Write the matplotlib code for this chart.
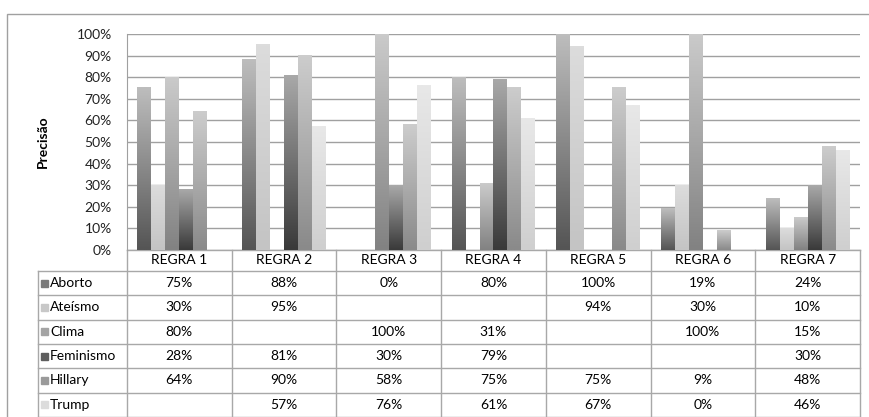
import numpy as np
import matplotlib
matplotlib.use("Agg")
import matplotlib.pyplot as plt
from matplotlib.colors import LinearSegmentedColormap
from matplotlib.patches import Rectangle
from matplotlib.transforms import blended_transform_factory

plt.rcParams['font.family'] = ['Lato', 'DejaVu Sans']

regras = ["REGRA 1", "REGRA 2", "REGRA 3", "REGRA 4", "REGRA 5", "REGRA 6", "REGRA 7"]
temas = ["Aborto", "Ateísmo", "Clima", "Feminismo", "Hillary", "Trump"]
nan = np.nan
aborto = [75, 88, 0, 80, 100, 19, 24]
ateismo = [30, 95, nan, nan, 94, 30, 10]
clima = [80, nan, 100, 31, nan, 100, 15]
feminismo = [28, 81, 30, 79, nan, nan, 30]
hillary = [64, 90, 58, 75, 75, 9, 48]
trump = [nan, 57, 76, 61, 67, 0, 46]
series = [aborto, ateismo, clima, feminismo, hillary, trump]

# gradient (bottom, top) per series + legend key colour
grads = [("#555555", "#bdbdbd"), ("#c4c4c4", "#dcdcdc"), ("#828282", "#cacaca"),
         ("#3a3a3a", "#a8a8a8"), ("#8a8a8a", "#cccccc"), ("#cfcfcf", "#e8e8e8")]
keys = ["#7a7a7a", "#c8c8c8", "#a4a4a4", "#5e5e5e", "#9a9a9a", "#dcdcdc"]

fig = plt.figure(figsize=(8.7, 4.17), dpi=100)
ax = fig.add_axes([127/870, 1-250/417, 733/870, 216/417])

x = np.arange(len(regras))
n = len(series)
w = 0.8 / n
grad = np.linspace(0, 1, 64).reshape(-1, 1)
for i, vals in enumerate(series):
    v = np.array(vals, dtype=float) / 100
    bars = ax.bar(x - 0.4 + w * (i + 0.5), np.nan_to_num(v), w, color='none', zorder=3)
    cmap = LinearSegmentedColormap.from_list("g%d" % i, grads[i])
    for r, val in zip(bars, v):
        if np.isnan(val) or r.get_height() <= 0:
            continue
        x0, h = r.get_x(), r.get_height()
        ax.imshow(grad, extent=(x0, x0 + r.get_width(), 0, h), origin='lower',
                  cmap=cmap, aspect='auto', zorder=3, interpolation='bilinear')

ax.set_xlim(-0.5, len(regras) - 0.5)
ax.set_ylim(0, 1)
ax.set_yticks(np.arange(0, 1.01, 0.1))
ax.set_yticklabels(["%d%%" % round(t * 100) for t in np.arange(0, 1.01, 0.1)], fontsize=10)
ax.tick_params(axis='y', length=0, pad=11, colors='#222222')
ax.set_xticks([])
ax.yaxis.grid(True, color='#a0a0a0', lw=1)
ax.set_axisbelow(True)
for s in ['top', 'right', 'bottom']:
    ax.spines[s].set_visible(False)
ax.spines['left'].set_color('#a0a0a0')
ax.set_ylabel("Precisão", fontsize=10, fontweight='bold', labelpad=20)

# data table under the chart
tr = blended_transform_factory(ax.transData, ax.transAxes)
lc = '#a8a8a8'
hh = 21 / 216
rh = 24.3 / 216
xl = (38 - 127) / (733 / 7) - 0.5
xr = len(regras) - 0.5
bottom = -hh - rh * len(temas)
for j in range(len(regras) + 1):
    ax.plot([j - 0.5, j - 0.5], [0, bottom], color=lc, lw=1, transform=tr, clip_on=False)
ax.plot([-0.5, xr], [0, 0], color=lc, lw=1, transform=tr, clip_on=False)
ax.plot([xl, xl], [-hh, bottom], color=lc, lw=1, transform=tr, clip_on=False)
for k in range(len(temas) + 1):
    yy = -hh - rh * k
    ax.plot([xl, xr], [yy, yy], color=lc, lw=1, transform=tr, clip_on=False)
for j, rg in enumerate(regras):
    ax.text(j, -hh / 2, rg, ha='center', va='center', fontsize=10, transform=tr)
for k, (tema, vals) in enumerate(zip(temas, series)):
    yc = -hh - rh * (k + 0.5)
    ax.add_patch(Rectangle((xl + 0.03, yc - 0.016), 0.065, 0.032, transform=tr,
                           color=keys[k], clip_on=False))
    ax.text(xl + 0.115, yc, tema, ha='left', va='center', fontsize=10, transform=tr)
    for j, v in enumerate(vals):
        if not np.isnan(v):
            ax.text(j, yc, "%d%%" % v, ha='center', va='center', fontsize=10, transform=tr)

# chart outer border
fig.add_artist(Rectangle((7/870, -0.1), 2, 1 - 14/417 + 0.1, transform=fig.transFigure,
                         fill=False, ec='#a0a0a0', lw=1))

fig.savefig("out.png", dpi=100)
